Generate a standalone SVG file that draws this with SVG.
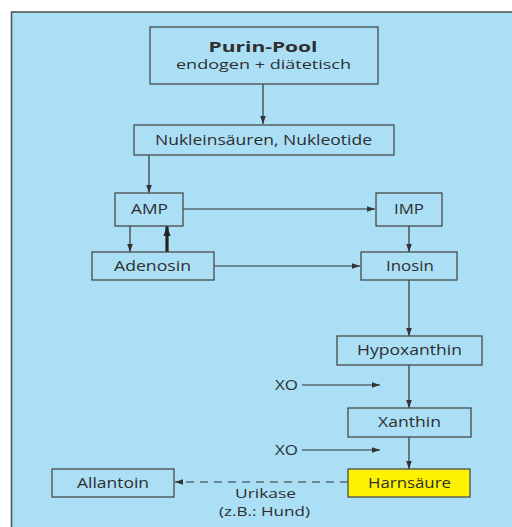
<svg xmlns="http://www.w3.org/2000/svg" width="512" height="527" viewBox="0 0 512 527">
<defs>
<style>
.box{fill:none;stroke:#4a4a4a;stroke-width:1.3}
.t{font-family:"Open Sans","Liberation Sans",sans-serif;font-size:14px;font-weight:500;fill:#2e2e2e;text-anchor:middle}
.s{font-size:13px}
.c{stroke:#333;stroke-width:1.2;fill:none}
</style>
<marker id="ah" viewBox="0 0 10 10" refX="10" refY="5" markerWidth="8" markerHeight="8" markerUnits="userSpaceOnUse" orient="auto"><path d="M0,1.5 L10,5 L0,8.5 Z" fill="#333"/></marker>
<marker id="ahb" viewBox="0 0 10 10" refX="10" refY="5" markerWidth="10" markerHeight="10" markerUnits="userSpaceOnUse" orient="auto"><path d="M0,1.5 L10,5 L0,8.5 Z" fill="#222"/></marker>
</defs>
<rect x="0" y="0" width="512" height="527" fill="#fff"/>
<rect x="11.5" y="12" width="520" height="530" fill="#aadff6" stroke="#555" stroke-width="1.6"/>
<g id="connectors">
<line class="c" x1="263" y1="84" x2="263" y2="124" marker-end="url(#ah)"/>
<line class="c" x1="149" y1="155" x2="149" y2="193" marker-end="url(#ah)"/>
<line class="c" x1="183" y1="209" x2="375" y2="209" marker-end="url(#ah)"/>
<line class="c" x1="130" y1="226" x2="130" y2="252" marker-end="url(#ah)"/>
<line x1="167" y1="252" x2="167" y2="226" stroke="#222" stroke-width="3.2" marker-end="url(#ahb)"/>
<line class="c" x1="214" y1="266" x2="360" y2="266" marker-end="url(#ah)"/>
<line class="c" x1="409" y1="226" x2="409" y2="252" marker-end="url(#ah)"/>
<line class="c" x1="409" y1="280" x2="409" y2="336" marker-end="url(#ah)"/>
<line class="c" x1="409" y1="365" x2="409" y2="408" marker-end="url(#ah)"/>
<line class="c" x1="409" y1="437" x2="409" y2="469" marker-end="url(#ah)"/>
<line class="c" x1="302" y1="385" x2="380" y2="385" marker-end="url(#ah)"/>
<line class="c" x1="302" y1="450" x2="380" y2="450" marker-end="url(#ah)"/>
<line class="c" x1="348" y1="482" x2="175" y2="482" stroke-dasharray="8,6" marker-end="url(#ah)"/>
</g>
<g id="purinpool">
<rect class="box" x="150" y="27" width="228" height="57"/>
<text class="t" x="263" y="52" style="font-size:15px;font-weight:700" textLength="109" lengthAdjust="spacingAndGlyphs">Purin-Pool</text>
<text class="t s" x="263.5" y="69" textLength="175" lengthAdjust="spacingAndGlyphs">endogen + diätetisch</text>
</g>
<g id="nuklein">
<rect class="box" x="134" y="125" width="260" height="30"/>
<text class="t" x="263.5" y="145" textLength="217" lengthAdjust="spacingAndGlyphs">Nukleinsäuren, Nukleotide</text>
</g>
<g id="amp">
<rect class="box" x="115" y="193" width="68" height="33"/>
<text class="t" x="149.5" y="214" textLength="37" lengthAdjust="spacingAndGlyphs">AMP</text>
</g>
<g id="imp">
<rect class="box" x="376" y="193" width="66" height="33"/>
<text class="t" x="409" y="214" textLength="30" lengthAdjust="spacingAndGlyphs">IMP</text>
</g>
<g id="adenosin">
<rect class="box" x="92" y="252" width="122" height="28"/>
<text class="t" x="152.5" y="271" textLength="77" lengthAdjust="spacingAndGlyphs">Adenosin</text>
</g>
<g id="inosin">
<rect class="box" x="361" y="252" width="96" height="28"/>
<text class="t" x="410" y="271" textLength="48" lengthAdjust="spacingAndGlyphs">Inosin</text>
</g>
<g id="hypoxanthin">
<rect class="box" x="337" y="336" width="145" height="29"/>
<text class="t" x="409.5" y="355" textLength="105" lengthAdjust="spacingAndGlyphs">Hypoxanthin</text>
</g>
<g id="xanthin">
<rect class="box" x="348" y="408" width="123" height="29"/>
<text class="t" x="409.5" y="427" textLength="63" lengthAdjust="spacingAndGlyphs">Xanthin</text>
</g>
<g id="harnsaeure">
<rect class="box" x="348" y="469" width="122" height="28" style="fill:#fff200"/>
<text class="t" x="409.5" y="488" textLength="83" lengthAdjust="spacingAndGlyphs">Harnsäure</text>
</g>
<g id="allantoin">
<rect class="box" x="52" y="469" width="122" height="28"/>
<text class="t" x="113" y="488" textLength="72" lengthAdjust="spacingAndGlyphs">Allantoin</text>
</g>
<g id="labels">
<text class="t" x="286.5" y="390" textLength="23" lengthAdjust="spacingAndGlyphs">XO</text>
<text class="t" x="286.5" y="455" textLength="23" lengthAdjust="spacingAndGlyphs">XO</text>
<text class="t s" x="265.5" y="498" textLength="61" lengthAdjust="spacingAndGlyphs">Urikase</text>
<text class="t s" x="264.5" y="516" textLength="91" lengthAdjust="spacingAndGlyphs">(z.B.: Hund)</text>
</g>
</svg>
